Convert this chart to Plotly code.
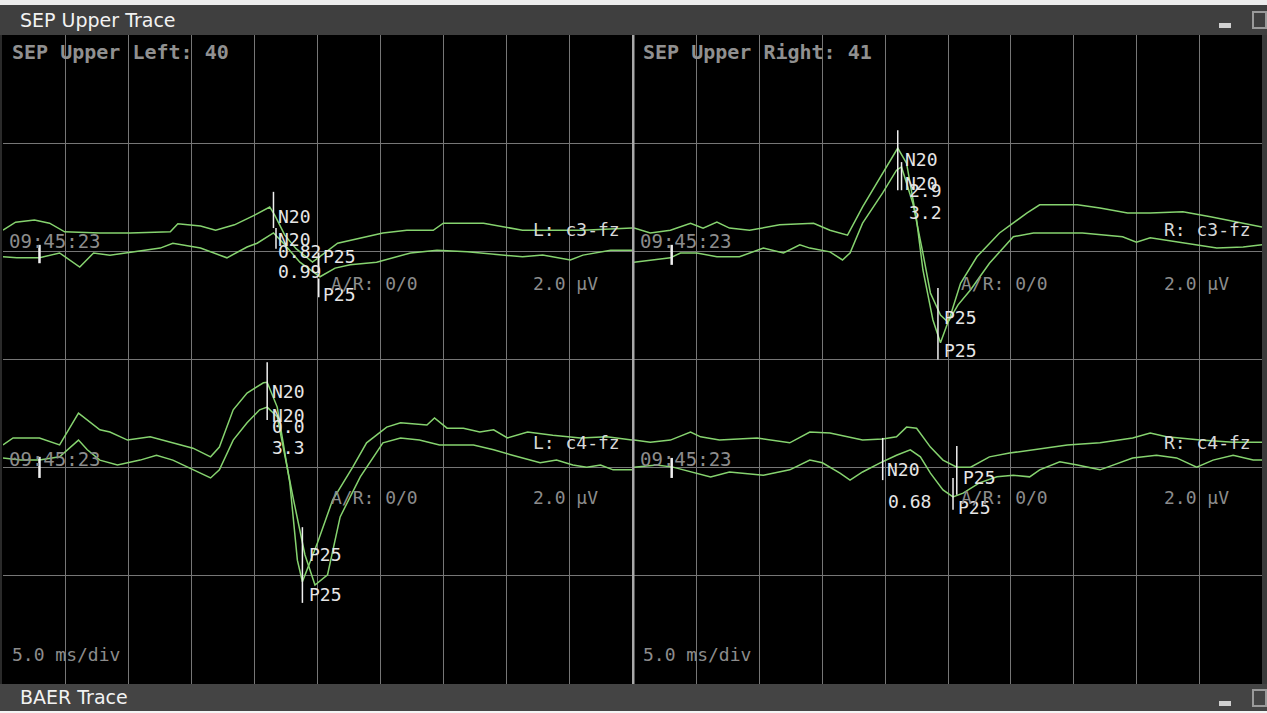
import plotly.graph_objects as go

W, H = 1267, 713

# ---------------- data (time in ms, amplitude in µV on a 0..12 µV panel scale) ----------------
# Left panel, upper channel (L: c3-fz)
lu_a_t = [0.0, 1.0, 2.5, 3.7, 4.9, 7.7, 10.1, 13.3, 13.9, 15.7, 16.9, 18.4, 20.0, 21.2, 21.6, 22.4, 23.3, 24.6, 26.6, 28.4, 30.2, 32.1, 34.2, 35.0, 38.2, 41.3, 46.1, 50.0]
lu_a_v = [8.39, 8.54, 8.58, 8.52, 8.36, 8.34, 8.34, 8.36, 8.51, 8.47, 8.39, 8.49, 8.67, 8.82, 8.67, 8.30, 8.05, 7.80, 8.15, 8.25, 8.34, 8.39, 8.39, 8.52, 8.52, 8.39, 8.39, 8.43]
lu_b_t = [0.0, 1.1, 2.9, 4.5, 6.1, 7.2, 8.5, 10.3, 12.5, 13.5, 15.7, 17.8, 19.4, 20.2, 21.5, 22.4, 23.6, 25.2, 26.4, 27.6, 29.7, 32.4, 34.5, 36.9, 39.5, 41.3, 42.9, 45.1, 46.1, 48.3, 50.0]
lu_b_v = [7.90, 7.88, 7.88, 7.97, 7.71, 7.97, 7.93, 7.99, 8.06, 8.15, 8.06, 7.88, 8.08, 8.15, 8.34, 8.12, 7.80, 7.53, 7.69, 7.75, 7.80, 7.97, 8.02, 7.99, 7.93, 7.90, 7.93, 7.84, 7.93, 8.02, 8.02]

# Left panel, lower channel (L: c4-fz)
ll_a_t = [0.0, 0.8, 2.9, 4.5, 6.0, 7.7, 8.5, 9.9, 11.7, 13.5, 15.1, 16.5, 17.2, 18.3, 19.4, 20.7, 21.0, 21.8, 22.8, 23.4, 23.8, 25.0, 26.2, 27.8, 28.9, 30.5, 31.6, 33.7, 34.3, 35.3, 36.6, 37.9, 39.0, 40.1, 41.7, 43.7, 45.9, 48.0, 50.0]
ll_a_v = [4.42, 4.55, 4.55, 4.42, 5.01, 4.70, 4.66, 4.51, 4.57, 4.46, 4.36, 4.20, 4.38, 5.07, 5.38, 5.57, 5.58, 5.12, 3.72, 2.29, 1.89, 2.61, 3.40, 4.01, 4.46, 4.75, 4.83, 4.79, 4.92, 4.73, 4.73, 4.66, 4.70, 4.55, 4.66, 4.60, 4.55, 4.57, 4.51]
ll_b_t = [0.0, 1.4, 2.9, 4.5, 6.0, 6.7, 7.7, 9.1, 10.9, 12.2, 13.5, 15.1, 16.5, 17.2, 18.3, 19.4, 20.4, 21.0, 21.8, 23.1, 24.0, 24.8, 25.8, 26.8, 28.4, 30.2, 31.6, 33.1, 34.7, 37.4, 39.0, 40.5, 42.7, 44.0, 45.3, 46.4, 47.5, 48.5, 50.0]
ll_b_v = [4.18, 4.14, 4.14, 4.20, 4.51, 4.33, 4.14, 4.05, 4.14, 4.23, 4.14, 3.96, 3.81, 3.96, 4.51, 4.83, 5.07, 5.12, 4.94, 3.40, 2.39, 1.83, 2.02, 3.09, 3.83, 4.46, 4.55, 4.51, 4.42, 4.42, 4.33, 4.23, 4.09, 4.14, 4.05, 4.01, 4.05, 3.96, 3.96]

# Right panel, upper channel (R: c3-fz)
ru_a_t = [0.0, 1.3, 2.9, 4.5, 5.5, 6.6, 7.6, 9.2, 11.6, 14.3, 15.6, 17.0, 18.2, 19.6, 20.9, 21.0, 21.7, 22.5, 23.0, 23.8, 24.4, 25.2, 26.0, 27.3, 29.1, 31.3, 32.3, 35.3, 37.1, 39.3, 41.1, 43.7, 45.9, 48.5, 50.0]
ru_a_v = [8.43, 8.34, 8.39, 8.52, 8.43, 8.54, 8.43, 8.39, 8.49, 8.52, 8.39, 8.30, 8.82, 9.37, 9.87, 9.91, 9.63, 8.58, 7.66, 6.73, 6.31, 6.82, 7.41, 7.90, 8.34, 8.71, 8.86, 8.86, 8.80, 8.71, 8.71, 8.73, 8.64, 8.52, 8.45]
ru_b_t = [0.0, 2.9, 3.7, 5.0, 6.6, 8.4, 10.3, 11.9, 13.2, 14.0, 15.6, 16.6, 17.2, 18.2, 19.8, 20.9, 21.3, 22.2, 23.0, 23.6, 24.4, 25.0, 25.8, 26.8, 28.3, 30.2, 31.8, 35.7, 38.9, 40.0, 41.1, 43.7, 46.4, 48.5, 50.0]
ru_b_v = [7.80, 7.88, 7.97, 7.97, 7.90, 7.90, 8.06, 7.97, 8.12, 8.06, 7.99, 7.84, 7.97, 8.52, 9.08, 9.50, 9.56, 8.89, 7.97, 7.23, 6.82, 6.69, 7.01, 7.29, 7.78, 8.27, 8.34, 8.34, 8.27, 8.17, 8.25, 8.15, 8.06, 8.08, 8.12]

# Right panel, lower channel (R: c4-fz)
rl_a_t = [0.0, 1.3, 2.9, 4.5, 5.3, 6.8, 9.8, 12.4, 14.0, 15.6, 18.2, 19.8, 20.9, 21.7, 22.5, 23.6, 24.6, 25.7, 26.8, 28.3, 29.9, 31.8, 34.5, 37.1, 39.7, 41.1, 42.4, 45.1, 47.7, 50.0]
rl_a_v = [4.51, 4.47, 4.51, 4.66, 4.57, 4.51, 4.55, 4.46, 4.66, 4.64, 4.51, 4.53, 4.57, 4.75, 4.73, 4.38, 4.14, 4.01, 4.01, 4.20, 4.27, 4.33, 4.42, 4.46, 4.55, 4.64, 4.57, 4.51, 4.47, 4.47]
rl_b_t = [0.0, 1.8, 3.1, 5.0, 6.1, 7.6, 10.3, 12.4, 14.0, 15.0, 16.4, 17.2, 18.2, 19.6, 20.9, 22.0, 22.8, 23.6, 24.6, 25.4, 26.2, 27.5, 28.9, 30.2, 31.5, 32.3, 33.9, 35.3, 37.1, 39.7, 41.6, 43.2, 44.8, 46.1, 47.7, 49.3, 50.0]
rl_b_v = [4.01, 4.05, 4.01, 3.90, 3.83, 3.92, 3.86, 3.96, 4.14, 4.09, 3.90, 3.77, 3.92, 4.09, 4.23, 4.33, 4.20, 3.90, 3.59, 3.46, 3.53, 3.72, 3.83, 3.86, 3.83, 3.96, 4.11, 4.05, 3.96, 4.18, 4.23, 4.18, 4.01, 4.14, 4.23, 4.14, 4.14]

# Latency markers: panel, latency (ms), low / high amplitude of the cursor (µV)
mk_panel = ["L", "L", "L", "L", "L", "L", "L", "L", "R", "R", "R", "R", "R", "R", "R", "R"]
mk_t     = [21.5, 21.7, 25.1, 25.1, 21.0, 23.8, 2.9, 2.9, 21.0, 21.3, 24.2, 19.8, 25.7, 25.4, 3.0, 3.0]
mk_lo    = [8.43, 8.05, 7.60, 7.15, 4.88, 1.50, 7.78, 3.81, 9.13, 9.13, 6.00, 3.77, 3.50, 3.22, 7.75, 3.81]
mk_hi    = [9.10, 8.43, 7.98, 7.50, 5.95, 2.90, 8.12, 4.20, 10.24, 9.65, 7.32, 4.55, 4.40, 3.81, 8.12, 4.18]
mk_width = [1.5, 1.5, 1.5, 1.5, 1.5, 1.5, 2.5, 2.5, 1.5, 1.5, 1.5, 1.5, 1.5, 1.5, 2.5, 2.5]

# Peak labels: panel, text, latency (ms), amplitude (µV)
lb_panel = ["L"] * 12 + ["R"] * 10
lb_text  = ["N20", "N20", "0.82", "0.99", "P25", "P25", "N20", "N20", "0.0", "3.3", "P25", "P25",
            "N20", "N20", "2.9", "3.2", "P25", "P25", "N20", "0.68", "P25", "P25"]
lb_t     = [21.7, 21.7, 21.7, 21.7, 25.3, 25.3, 21.2, 21.2, 21.2, 21.2, 24.2, 24.2,
            21.4, 21.4, 21.7, 21.7, 24.5, 24.5, 20.0, 20.1, 26.0, 25.6]
lb_v     = [8.64, 8.21, 7.99, 7.62, 7.90, 7.21, 5.40, 4.96, 4.77, 4.38, 2.39, 1.65,
            9.69, 9.26, 9.12, 8.71, 6.77, 6.16, 3.96, 3.37, 3.81, 3.27]

# Channel texts
ch_names  = {"L": ["L: c3-fz", "L: c4-fz"], "R": ["R: c3-fz", "R: c4-fz"]}
ch_base   = [8.41, 4.47]      # level of channel name
ch_scale  = [7.41, 3.44]      # level of "2.0 µV" / "A/R" line
ch_stamp  = [8.19, 4.16]      # level of time stamp
panel_titles = {"L": "SEP Upper Left: 40", "R": "SEP Upper Right: 41"}

# ---------------- figure ----------------
GREEN = "#86d36f"
GRID = "#767676"
fig = go.Figure()

axes = {"L": ("x", "y"), "R": ("x2", "y2")}
series = {
    "L": [(lu_a_t, lu_a_v), (lu_b_t, lu_b_v), (ll_a_t, ll_a_v), (ll_b_t, ll_b_v)],
    "R": [(ru_a_t, ru_a_v), (ru_b_t, ru_b_v), (rl_a_t, rl_a_v), (rl_b_t, rl_b_v)],
}
for p, lst in series.items():
    xa, ya = axes[p]
    for t, v in lst:
        fig.add_trace(go.Scatter(x=t, y=v, xaxis=xa, yaxis=ya, mode="lines",
                                 line=dict(color=GREEN, width=1.5),
                                 hoverinfo="skip", showlegend=False))

for p, t, lo, hi, w in zip(mk_panel, mk_t, mk_lo, mk_hi, mk_width):
    xa, ya = axes[p]
    fig.add_trace(go.Scatter(x=[t, t], y=[lo, hi], xaxis=xa, yaxis=ya, mode="lines",
                             line=dict(color="#f0f0f0", width=w),
                             hoverinfo="skip", showlegend=False))

MONO = "DejaVu Sans Mono"
ann = []
for p, txt, t, v in zip(lb_panel, lb_text, lb_t, lb_v):
    xa, ya = axes[p]
    ann.append(dict(x=t, y=v, xref=xa, yref=ya, text=txt, showarrow=False,
                    xanchor="left", yanchor="middle",
                    font=dict(family=MONO, size=18, color="#e6e6e6")))

for p in ["L", "R"]:
    xa, ya = axes[p]
    for i in range(2):
        ann.append(dict(x=42.0, y=ch_base[i], xref=xa, yref=ya, text=ch_names[p][i],
                        showarrow=False, xanchor="left", yanchor="middle",
                        font=dict(family=MONO, size=18, color="#d8d8d8")))
        ann.append(dict(x=42.0, y=ch_scale[i], xref=xa, yref=ya, text="2.0 µV",
                        showarrow=False, xanchor="left", yanchor="middle",
                        font=dict(family=MONO, size=18, color="#8c8c8c")))
        ann.append(dict(x=25.9, y=ch_scale[i], xref=xa, yref=ya, text="A/R: 0/0",
                        showarrow=False, xanchor="left", yanchor="middle",
                        font=dict(family=MONO, size=18, color="#8c8c8c")))
        ann.append(dict(x=0.35, y=ch_stamp[i], xref=xa, yref=ya, text="09:45:23",
                        showarrow=False, xanchor="left", yanchor="middle",
                        font=dict(family=MONO, size=19, color="#8c8c8c")))
    ann.append(dict(x=0.011, y=0.974, xref=xa + " domain", yref=ya + " domain",
                    text=panel_titles[p], showarrow=False, xanchor="left", yanchor="middle",
                    font=dict(family=MONO, size=20, color="#909090", weight="bold")))
    ann.append(dict(x=0.011, y=0.045, xref=xa + " domain", yref=ya + " domain",
                    text="5.0 ms/div", showarrow=False, xanchor="left", yanchor="middle",
                    font=dict(family=MONO, size=18, color="#8c8c8c")))

# window title bars
ann.append(dict(x=18 / W, y=1 - 20 / H, xref="paper", yref="paper", text="SEP Upper Trace",
                showarrow=False, xanchor="left", yanchor="middle",
                font=dict(family="DejaVu Sans", size=19, color="#f2f2f2")))
ann.append(dict(x=18 / W, y=1 - 697 / H, xref="paper", yref="paper", text="BAER Trace",
                showarrow=False, xanchor="left", yanchor="middle",
                font=dict(family="DejaVu Sans", size=19, color="#f2f2f2")))


def px_rect(x0, y0, x1, y1, fill, line=None, lw=0):
    return dict(type="rect", xref="paper", yref="paper",
                x0=x0 / W, x1=x1 / W, y0=1 - y1 / H, y1=1 - y0 / H,
                fillcolor=fill, line=dict(color=line or fill, width=lw), layer="below")


shapes = [
    px_rect(0, 0, W, 5, "#ececec"),
    px_rect(0, 5, W, 35, "#3f3f3f"),
    px_rect(0, 684, W, 711, "#444444"),
    px_rect(0, 711, W, H, "#f4f4f4"),
    px_rect(1262, 35, W, 684, "#3a3a3a"),
    px_rect(0, 35, 2, 684, "#2a2a2a"),
]
top_shapes = [
    px_rect(632, 35, 634.5, 684, "#a8a8a8"),
    px_rect(1219, 23, 1231, 28, "#d0d0d0"),
    px_rect(1253, 12, 1266, 28, "rgba(0,0,0,0)", "#9a9a9a", 2),
    px_rect(1219, 701, 1231, 706, "#d0d0d0"),
    px_rect(1253, 690, 1266, 706, "rgba(0,0,0,0)", "#9a9a9a", 2),
]
for s in top_shapes:
    s["layer"] = "above"
shapes += top_shapes

xcommon = dict(range=[0, 50], tick0=0, dtick=5, showgrid=True, gridcolor=GRID, gridwidth=1,
               zeroline=False, showticklabels=False, ticks="", showline=False, fixedrange=True)
ycommon = dict(range=[0, 12], tick0=0, dtick=2, showgrid=True, gridcolor=GRID, gridwidth=1,
               zeroline=False, showticklabels=False, ticks="", showline=False, fixedrange=True,
               domain=[29 / H, 678 / H])

fig.update_layout(
    width=W, height=H, autosize=False,
    margin=dict(l=0, r=0, t=0, b=0, pad=0),
    paper_bgcolor="#000000", plot_bgcolor="#000000",
    showlegend=False,
    xaxis=dict(domain=[3 / W, 632 / W], anchor="y", **xcommon),
    yaxis=dict(anchor="x", **ycommon),
    xaxis2=dict(domain=[634 / W, 1262 / W], anchor="y2", **xcommon),
    yaxis2=dict(anchor="x2", **ycommon),
    annotations=ann,
    shapes=shapes,
)

fig.write_html("out.html", config={"staticPlot": True},
               post_script="document.body.style.margin='0px';document.body.style.overflow='hidden';")
